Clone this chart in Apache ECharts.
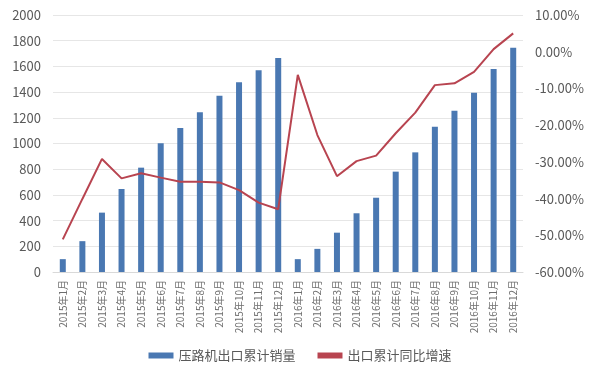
<!DOCTYPE html>
<html><head><meta charset="utf-8">
<script src="https://cdn.jsdelivr.net/npm/echarts@6/dist/echarts.min.js"></script>
<style>html,body{margin:0;padding:0;background:#fff}#c{width:600px;height:383px}</style>
</head><body><div id="c"></div>
<script>
const categories = ["2015年1月","2015年2月","2015年3月","2015年4月","2015年5月","2015年6月","2015年7月","2015年8月","2015年9月","2015年10月","2015年11月","2015年12月","2016年1月","2016年2月","2016年3月","2016年4月","2016年5月","2016年6月","2016年7月","2016年8月","2016年9月","2016年10月","2016年11月","2016年12月"];
const salesCum = [100,240,462,646,812,1001,1121,1243,1372,1476,1570,1665,100,180,306,457,578,781,931,1131,1255,1395,1580,1746];
const growthPct = [-51.1,-40.1,-29.2,-34.5,-33.1,-34.3,-35.4,-35.4,-35.6,-37.7,-41.1,-42.9,-6.3,-22.7,-33.9,-29.8,-28.3,-22.2,-16.6,-9.1,-8.6,-5.5,0.7,5.0];
const leftTicks = {min:0,max:2000,interval:200};
const rightTicks = {min:-60,max:10,interval:10};

const font = '"Noto Sans CJK SC", "Noto Sans", sans-serif';
const chart = echarts.init(document.getElementById('c'));
chart.setOption({
  animation:false,
  grid:{left:53,right:77,top:15,bottom:111},
  legend:{
    bottom:16,left:'center',itemGap:22,itemWidth:25,itemHeight:6,
    textStyle:{color:'#595959',fontSize:13,fontFamily:font},
    data:[{name:'压路机出口累计销量',icon:'rect'},{name:'出口累计同比增速',icon:'rect',itemStyle:{color:'#b84450'}}]
  },
  xAxis:{
    type:'category',data:categories,
    axisLine:{lineStyle:{color:'#d9d9d9'}},
    axisTick:{show:false},
    axisLabel:{rotate:90,color:'#6e6e6e',fontSize:10,fontFamily:font,interval:0,margin:8}
  },
  yAxis:[
    {type:'value',min:leftTicks.min,max:leftTicks.max,interval:leftTicks.interval,
     axisLine:{show:false},axisTick:{show:false},
     axisLabel:{color:'#595959',fontSize:13,fontFamily:font,margin:12,formatter:v=>String(v)},
     splitLine:{lineStyle:{color:'#e6e6e6'}}},
    {type:'value',min:rightTicks.min,max:rightTicks.max,interval:rightTicks.interval,
     axisLine:{show:false},axisTick:{show:false},
     axisLabel:{color:'#595959',fontSize:13,fontFamily:font,margin:12,formatter:v=>v.toFixed(2)+'%'},
     splitLine:{show:false}}
  ],
  series:[
    {name:'压路机出口累计销量',type:'bar',data:salesCum,barWidth:6,itemStyle:{color:'#4a78b2'}},
    {name:'出口累计同比增速',type:'line',yAxisIndex:1,data:growthPct,symbol:'none',
     lineStyle:{color:'#b84450',width:2},itemStyle:{color:'#b84450'}}
  ]
});
</script></body></html>
